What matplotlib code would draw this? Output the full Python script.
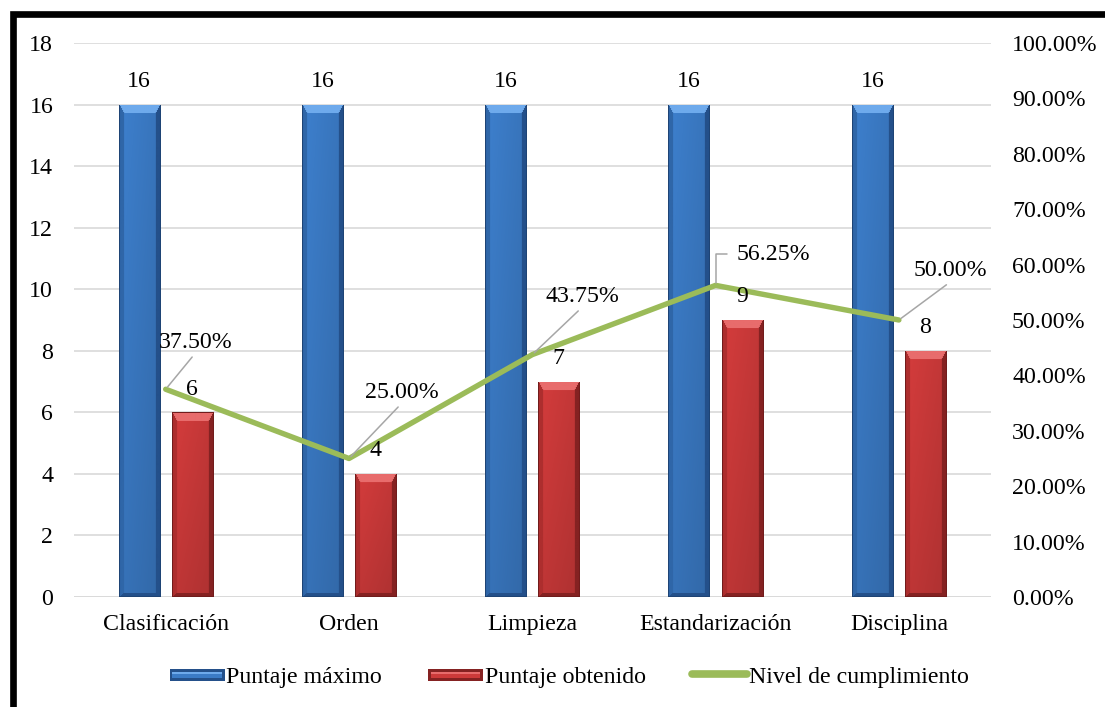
import numpy as np
import matplotlib
matplotlib.use("Agg")
import matplotlib.pyplot as plt
from matplotlib.patches import Rectangle
from matplotlib.lines import Line2D
from matplotlib.legend_handler import HandlerBase
from matplotlib.colors import to_rgb

# ---- data ----
categories = ["Clasificación", "Orden", "Limpieza", "Estandarización", "Disciplina"]
puntaje_maximo = [16, 16, 16, 16, 16]
puntaje_obtenido = [6, 4, 7, 9, 8]
nivel_cumplimiento = [0.375, 0.25, 0.4375, 0.5625, 0.50]
left_ticks = [0, 2, 4, 6, 8, 10, 12, 14, 16, 18]
right_ticks = [0.0, 0.1, 0.2, 0.3, 0.4, 0.5, 0.6, 0.7, 0.8, 0.9, 1.0]
series_names = ["Puntaje máximo", "Puntaje obtenido", "Nivel de cumplimiento"]

# ---- style ----
plt.rcParams["font.family"] = ["Liberation Serif", "DejaVu Serif"]
FS = 17.2
BLUE = dict(base="#3b7bc6", light="#6eaaec", mid="#2f66a8", dark="#24508a")
RED = dict(base="#cd3a3a", light="#e86c6c", mid="#ad2e2e", dark="#852222")
GREEN = "#9bbb59"
GRID = "#d9d9d9"
LEADER = "#a6a6a6"

W, H, DPI = 11.05, 7.07, 100
fig = plt.figure(figsize=(W, H), dpi=DPI)
ax = fig.add_axes([0.0670, 0.1556, 0.8294, 0.7836])
ax2 = ax.twinx()

x = np.arange(len(categories))
bw = 0.224
off = 0.145

ax.set_xlim(-0.5, len(categories) - 0.5)
ax.set_ylim(left_ticks[0], left_ticks[-1])
ax2.set_ylim(right_ticks[0], right_ticks[-1])

bars_max = ax.bar(x - off, puntaje_maximo, bw, color=BLUE["base"], zorder=2,
                  label=series_names[0])
bars_obt = ax.bar(x + off, puntaje_obtenido, bw, color=RED["base"], zorder=2,
                  label=series_names[1])


def shade(c, f):
    return np.clip(np.array(to_rgb(c)) * f, 0, 1)


def bevel_image(wpx, hpx, pal):
    w = max(int(round(wpx)), 4)
    h = max(int(round(hpx)), 4)
    yy, xx = np.mgrid[0:h, 0:w].astype(float)
    img = np.empty((h, w, 3))
    img[:] = to_rgb(pal["base"])
    # gentle horizontal and vertical shading on the face
    u = xx / (w - 1)
    img *= (1.04 - 0.10 * u)[..., None]
    v = yy / (h - 1)
    img *= (1.0 - 0.10 * v)[..., None]
    bs, bt, bb = 5.0, 9.0, 4.0
    d = np.stack([yy / bt, xx / bs, (w - 1 - xx) / bs, (h - 1 - yy) / bb])
    k = np.argmin(d, axis=0)
    inside = np.min(d, axis=0) < 1.0
    cols = [to_rgb(pal["light"]), to_rgb(pal["mid"]), to_rgb(pal["dark"]),
            to_rgb(pal["dark"])]
    for i, c in enumerate(cols):
        m = inside & (k == i)
        img[m] = c
    # thin dark outline
    edge = (xx < 1) | (xx > w - 2) | (yy < 1) | (yy > h - 2)
    img[edge] = shade(pal["dark"], 0.85)
    return img


def paint_bars(container, pal):
    for p in container.patches:
        x0, y0 = p.get_x(), p.get_y()
        x1, y1 = x0 + p.get_width(), y0 + p.get_height()
        (px0, py0), (px1, py1) = ax.transData.transform([(x0, y0), (x1, y1)])
        img = bevel_image(px1 - px0, py1 - py0, pal)
        im = ax.imshow(img, extent=[x0, x1, y0, y1], origin="upper",
                       aspect="auto", interpolation="bilinear", zorder=2.5)
        im.set_clip_path(p)


paint_bars(bars_max, BLUE)
paint_bars(bars_obt, RED)
ax.set_xlim(-0.5, len(categories) - 0.5)
ax.set_ylim(left_ticks[0], left_ticks[-1])

# compliance line on the secondary axis
ax2.plot(x, nivel_cumplimiento, color=GREEN, lw=3.9, solid_capstyle="round",
         solid_joinstyle="round", zorder=4, label=series_names[2])

# value labels above bars (kept on top of the line)
for cont in (bars_max, bars_obt):
    for p in cont.patches:
        ax2.annotate(f"{p.get_height():g}",
                     (p.get_x() + p.get_width() / 2, p.get_height()),
                     xycoords=ax.transData,
                     xytext=(0, 23), textcoords="offset pixels",
                     ha="center", va="center", fontsize=FS, zorder=6)

# percentage labels with leader lines
pct_offsets = [(30, 47), (53, 66), (50, 58), (58, 31), (52, 49)]
for i, (xi, yi) in enumerate(zip(x, nivel_cumplimiento)):
    dx, dy = pct_offsets[i]
    if i == 3:
        arrow = dict(arrowstyle="-", color=LEADER, lw=1.1, relpos=(0, 0.5),
                     patchA=None, shrinkA=7, shrinkB=2,
                     connectionstyle="angle,angleA=0,angleB=90,rad=0")
    else:
        arrow = dict(arrowstyle="-", color=LEADER, lw=1.1, relpos=(0.5, 0.0),
                     patchA=None, shrinkA=4, shrinkB=2)
    ax2.annotate(f"{yi * 100:.2f}%", (xi, yi), xytext=(dx, dy),
                 textcoords="offset pixels", ha="center", va="center",
                 fontsize=FS, arrowprops=arrow, zorder=6)

# axes, ticks and grid
ax.set_yticks(left_ticks)
ax.set_yticklabels([str(t) for t in left_ticks])
ax2.set_yticks(right_ticks)
ax2.set_yticklabels([f"{t * 100:.2f}%" for t in right_ticks])
ax.set_xticks(x)
ax.set_xticklabels(categories)
ax.tick_params(axis="y", length=0, pad=15, labelsize=FS)
ax.tick_params(axis="x", length=0, pad=12, labelsize=FS)
ax2.tick_params(axis="y", length=0, pad=15.5, labelsize=FS)
ax.grid(axis="y", color=GRID, lw=1.2, zorder=0)
ax.set_axisbelow(True)
for a in (ax, ax2):
    for s in a.spines.values():
        s.set_visible(False)
ax.axhline(0, color=GRID, lw=1.2, zorder=1)


# legend with bevelled swatches
class BevelHandler(HandlerBase):
    def __init__(self, pal):
        super().__init__()
        self.pal = pal

    def create_artists(self, legend, orig_handle, xdescent, ydescent, width,
                       height, fontsize, trans):
        hh = height * 0.62
        y0 = -ydescent + (height - hh) / 2
        x0 = -xdescent
        arts = [
            Rectangle((x0, y0), width, hh, facecolor=self.pal["dark"],
                      edgecolor="none", transform=trans),
            Rectangle((x0 + 2, y0 + 2), width - 4, hh - 4,
                      facecolor=self.pal["base"], edgecolor="none",
                      transform=trans),
            Rectangle((x0 + 2, y0 + hh * 0.55), width - 4, hh * 0.45 - 2,
                      facecolor=self.pal["light"], edgecolor="none",
                      transform=trans),
        ]
        return arts


h_line = Line2D([], [], color=GREEN, lw=5.5, solid_capstyle="round")
fig.legend([bars_max, bars_obt, h_line], series_names,
           handler_map={bars_max: BevelHandler(BLUE),
                        bars_obt: BevelHandler(RED)},
           loc="center", bbox_to_anchor=(0.515, 0.043), ncol=3, frameon=False,
           fontsize=FS, handlelength=2.3, handleheight=0.85,
           handletextpad=0.06, columnspacing=1.95, borderaxespad=0)

# outer frame (left and top edges visible)
fx = 12.5 / (W * DPI)
fy = 1 - 13.5 / (H * DPI)
fig.add_artist(Line2D([fx, fx, 1.0], [0.0, fy, fy], transform=fig.transFigure,
                      color="black", lw=4.8, solid_joinstyle="miter"))

fig.savefig("out.png", dpi=DPI, facecolor="white")
